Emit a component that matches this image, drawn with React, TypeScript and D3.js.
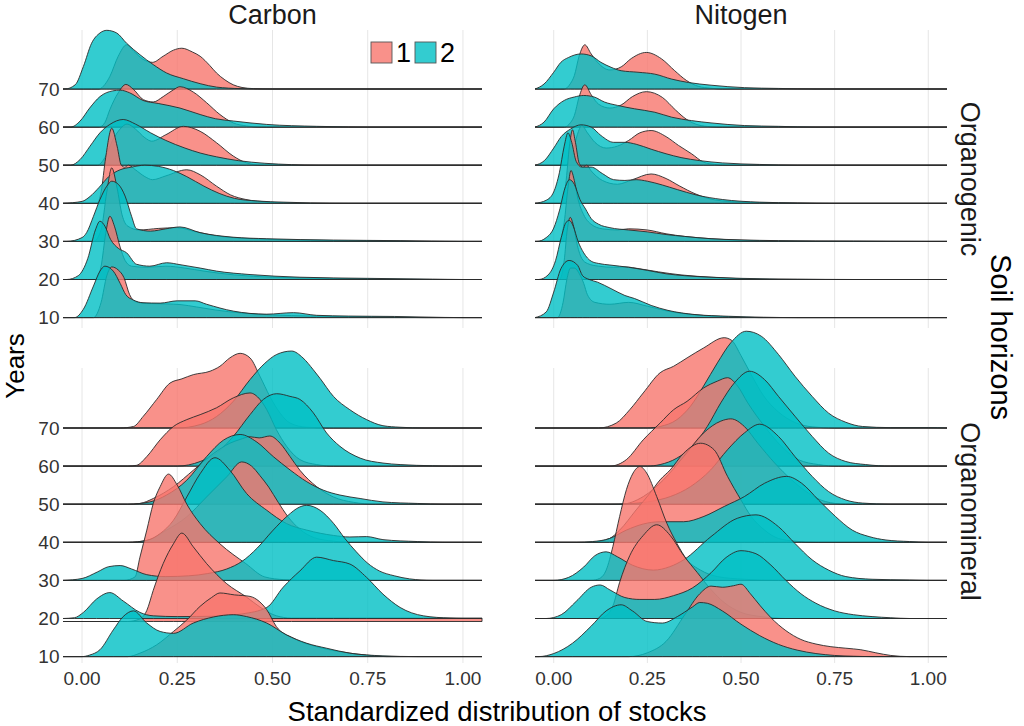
import React from "react";
import * as d3 from "d3";

type Pt = [number, number];

const years = [10, 20, 30, 40, 50, 60, 70];
const elements = ["Carbon", "Nitogen"];
const horizons = ["Organogenic", "Organomineral"];
const groups = ["1", "2"];
const xTicks = [0, 0, 0.25, 0.5, 0.75, 1].slice(1);
const xTickLabels = ["0.00", "0.25", "0.50", "0.75", "1.00"];

// Density ridges: [standardized stock, ridge height in row units]; outer arrays follow `years` (10..70)
const carbonOrganogenic1: Pt[][] = [
  [[0.03,0],[0.05,0.4],[0.065,1.1],[0.078,1.33],[0.095,1.25],[0.11,1.05],[0.125,0.6],[0.14,0.42],[0.17,0.37],[0.22,0.36],[0.26,0.34],[0.3,0.28],[0.35,0.2],[0.42,0.12],[0.5,0.07],[0.6,0.04],[0.75,0.02],[0.9,0]],
  [[0.035,0],[0.05,0.35],[0.062,1.2],[0.073,1.66],[0.085,1.4],[0.1,0.85],[0.113,0.5],[0.13,0.35],[0.17,0.32],[0.22,0.35],[0.27,0.3],[0.32,0.22],[0.4,0.12],[0.5,0.06],[0.65,0.03],[0.8,0.01],[0.9,0]],
  [[0.03,0],[0.05,0.3],[0.065,1.3],[0.078,1.93],[0.092,1.4],[0.105,0.7],[0.12,0.4],[0.15,0.3],[0.2,0.34],[0.25,0.36],[0.3,0.25],[0.35,0.15],[0.45,0.07],[0.6,0.03],[0.8,0.01],[0.95,0]],
  [[0.04,0],[0.05,0.3],[0.062,1.2],[0.078,1.97],[0.092,1.5],[0.103,1.0],[0.112,0.95],[0.122,1.0],[0.14,0.88],[0.165,0.7],[0.185,0.62],[0.22,0.72],[0.275,0.88],[0.31,0.75],[0.353,0.45],[0.39,0.22],[0.43,0.1],[0.48,0.04],[0.53,0.01],[0.6,0]],
  [[0.04,0],[0.06,0.2],[0.08,0.65],[0.1,0.95],[0.118,1.08],[0.14,0.95],[0.165,0.72],[0.183,0.63],[0.22,0.8],[0.266,1.02],[0.31,0.89],[0.353,0.59],[0.397,0.24],[0.432,0.06],[0.47,0]],
  [[0.045,0],[0.06,0.12],[0.073,0.46],[0.095,0.9],[0.115,1.12],[0.135,0.99],[0.161,0.72],[0.187,0.66],[0.213,0.8],[0.24,0.98],[0.257,1.06],[0.292,0.92],[0.327,0.64],[0.362,0.33],[0.397,0.11],[0.432,0.03],[0.47,0]],
  [[0.045,0],[0.06,0.12],[0.073,0.33],[0.095,0.86],[0.117,1.16],[0.135,1.0],[0.16,0.78],[0.185,0.7],[0.213,0.86],[0.24,1.02],[0.262,1.07],[0.29,0.97],[0.31,0.86],[0.335,0.62],[0.353,0.42],[0.375,0.24],[0.397,0.11],[0.42,0.04],[0.45,0.01],[0.5,0]],
];
const carbonOrganogenic2: Pt[][] = [
  [[-0.02,0],[0.0035,0.22],[0.03,0.83],[0.047,1.22],[0.06,1.35],[0.082,1.22],[0.1,0.9],[0.115,0.6],[0.135,0.46],[0.16,0.39],[0.205,0.38],[0.25,0.44],[0.297,0.44],[0.327,0.35],[0.397,0.17],[0.485,0.09],[0.555,0.13],[0.616,0.06],[0.7,0.04],[0.82,0.03],[0.95,0.005],[1.0,0]],
  [[-0.04,0],[-0.01,0.1],[0.015,0.55],[0.035,1.3],[0.047,1.53],[0.06,1.4],[0.075,1.05],[0.095,0.82],[0.117,0.7],[0.143,0.4],[0.178,0.35],[0.222,0.44],[0.257,0.39],[0.31,0.3],[0.353,0.22],[0.441,0.13],[0.572,0.06],[0.75,0.03],[0.92,0.01],[1.0,0]],
  [[-0.04,0],[0.0,0.1],[0.012,0.23],[0.03,0.66],[0.047,1.1],[0.065,1.45],[0.078,1.58],[0.095,1.5],[0.113,1.19],[0.13,0.66],[0.143,0.33],[0.18,0.27],[0.22,0.33],[0.257,0.38],[0.31,0.23],[0.397,0.11],[0.485,0.07],[0.66,0.035],[0.835,0.02],[1.0,0]],
  [[-0.05,0],[0.0,0.05],[0.021,0.18],[0.045,0.42],[0.07,0.7],[0.1,0.88],[0.13,0.95],[0.165,1.0],[0.2,0.97],[0.24,0.86],[0.275,0.7],[0.32,0.45],[0.36,0.26],[0.4,0.13],[0.46,0.06],[0.53,0.03],[0.6,0.01],[0.7,0]],
  [[-0.03,0],[-0.005,0.15],[0.021,0.5],[0.047,0.85],[0.073,1.07],[0.108,1.2],[0.14,1.08],[0.18,0.85],[0.22,0.65],[0.27,0.45],[0.31,0.32],[0.353,0.22],[0.41,0.12],[0.48,0.05],[0.55,0.015],[0.62,0]],
  [[-0.03,0],[-0.005,0.16],[0.02,0.5],[0.047,0.8],[0.08,0.95],[0.1,0.97],[0.125,0.9],[0.16,0.7],[0.2,0.62],[0.257,0.5],[0.31,0.33],[0.35,0.22],[0.397,0.16],[0.485,0.07],[0.616,0.02],[0.7,0.005],[0.75,0]],
  [[-0.045,0],[-0.018,0.11],[0.0035,0.59],[0.025,1.2],[0.047,1.47],[0.065,1.54],[0.091,1.47],[0.117,1.2],[0.152,0.9],[0.187,0.64],[0.222,0.42],[0.266,0.27],[0.31,0.14],[0.353,0.05],[0.415,0.01],[0.46,0]],
];
const nitogenOrganogenic1: Pt[][] = [
  [[0.01,0],[0.025,0.4],[0.035,1.0],[0.045,1.3],[0.055,1.3],[0.07,1.12],[0.08,0.9],[0.09,0.6],[0.11,0.4],[0.15,0.35],[0.2,0.4],[0.25,0.3],[0.3,0.18],[0.37,0.08],[0.45,0.03],[0.55,0]],
  [[0.015,0],[0.028,0.5],[0.036,1.3],[0.044,1.63],[0.053,1.4],[0.063,0.9],[0.075,0.55],[0.09,0.42],[0.12,0.35],[0.16,0.32],[0.19,0.33],[0.23,0.28],[0.28,0.2],[0.34,0.12],[0.42,0.06],[0.5,0.02],[0.6,0]],
  [[0.015,0],[0.028,0.5],[0.038,1.4],[0.046,1.86],[0.055,1.6],[0.065,1.1],[0.08,0.7],[0.1,0.45],[0.13,0.33],[0.17,0.3],[0.2,0.33],[0.25,0.3],[0.3,0.2],[0.35,0.13],[0.42,0.07],[0.5,0.03],[0.6,0.01],[0.7,0]],
  [[0.02,0],[0.032,0.5],[0.042,1.5],[0.05,1.93],[0.058,1.6],[0.068,1.05],[0.078,0.95],[0.088,1.0],[0.1,0.85],[0.13,0.6],[0.17,0.5],[0.21,0.62],[0.26,0.77],[0.3,0.65],[0.335,0.46],[0.38,0.24],[0.43,0.09],[0.5,0.03],[0.6,0.01],[0.7,0]],
  [[0.03,0],[0.05,0.3],[0.063,0.8],[0.075,1.04],[0.09,0.85],[0.11,0.6],[0.14,0.45],[0.17,0.5],[0.2,0.65],[0.23,0.85],[0.26,0.91],[0.3,0.75],[0.333,0.52],[0.368,0.3],[0.4,0.08],[0.43,0.02],[0.46,0]],
  [[0.028,0],[0.045,0.12],[0.055,0.3],[0.068,0.8],[0.083,1.11],[0.1,0.85],[0.12,0.6],[0.15,0.5],[0.18,0.58],[0.21,0.8],[0.247,0.93],[0.29,0.78],[0.325,0.45],[0.355,0.2],[0.385,0.06],[0.42,0.01],[0.45,0]],
  [[0.028,0],[0.045,0.15],[0.055,0.35],[0.068,0.87],[0.083,1.16],[0.1,0.92],[0.117,0.7],[0.15,0.5],[0.18,0.58],[0.207,0.8],[0.247,0.96],[0.288,0.79],[0.323,0.48],[0.355,0.22],[0.386,0.07],[0.42,0.02],[0.45,0]],
];
const nitogenOrganogenic2: Pt[][] = [
  [[-0.05,0],[-0.02,0.15],[0.0,0.67],[0.019,1.28],[0.041,1.5],[0.064,1.37],[0.077,1.1],[0.095,1.0],[0.117,0.93],[0.153,0.76],[0.19,0.58],[0.216,0.5],[0.26,0.32],[0.305,0.19],[0.377,0.08],[0.467,0.035],[0.56,0.01],[0.65,0]],
  [[-0.04,0],[-0.015,0.12],[0.005,0.5],[0.02,1.1],[0.033,1.5],[0.042,1.55],[0.052,1.4],[0.065,1.0],[0.08,0.7],[0.1,0.48],[0.12,0.42],[0.15,0.38],[0.2,0.32],[0.25,0.24],[0.3,0.15],[0.35,0.1],[0.42,0.06],[0.5,0.03],[0.65,0.01],[0.8,0]],
  [[-0.045,0],[-0.02,0.1],[0.0,0.35],[0.015,0.8],[0.03,1.4],[0.042,1.62],[0.055,1.5],[0.07,1.1],[0.085,0.85],[0.1,0.6],[0.12,0.45],[0.15,0.36],[0.2,0.3],[0.25,0.25],[0.3,0.18],[0.35,0.13],[0.42,0.07],[0.5,0.04],[0.6,0.02],[0.8,0.01],[1.0,0]],
  [[-0.05,0],[-0.02,0.08],[0.0,0.3],[0.015,0.8],[0.028,1.5],[0.038,1.85],[0.048,1.6],[0.06,1.1],[0.075,0.95],[0.1,0.95],[0.13,0.78],[0.16,0.62],[0.19,0.6],[0.22,0.62],[0.25,0.58],[0.29,0.48],[0.33,0.36],[0.38,0.22],[0.45,0.1],[0.55,0.03],[0.65,0.01],[0.75,0]],
  [[-0.05,0],[-0.025,0.12],[0.0,0.45],[0.02,0.75],[0.045,0.95],[0.073,1.06],[0.1,1.0],[0.126,0.78],[0.16,0.6],[0.19,0.6],[0.22,0.55],[0.26,0.42],[0.3,0.3],[0.34,0.2],[0.39,0.12],[0.45,0.06],[0.55,0.02],[0.65,0]],
  [[-0.05,0],[-0.026,0.13],[0.0,0.48],[0.028,0.7],[0.055,0.79],[0.08,0.83],[0.108,0.79],[0.135,0.66],[0.17,0.57],[0.216,0.48],[0.27,0.39],[0.315,0.26],[0.368,0.17],[0.42,0.11],[0.51,0.04],[0.6,0.02],[0.7,0]],
  [[-0.05,0],[-0.026,0.13],[0.0,0.44],[0.019,0.7],[0.04,0.83],[0.073,0.92],[0.1,0.87],[0.126,0.7],[0.153,0.57],[0.18,0.48],[0.225,0.44],[0.27,0.39],[0.315,0.26],[0.36,0.17],[0.42,0.1],[0.51,0.035],[0.6,0.015],[0.7,0]],
];
const carbonOrganomineral1: Pt[][] = [
  [[0.12,0],[0.152,0.09],[0.196,0.31],[0.24,0.66],[0.275,0.96],[0.31,1.32],[0.34,1.55],[0.362,1.67],[0.4,1.62],[0.441,1.58],[0.465,1.45],[0.485,1.23],[0.51,0.79],[0.555,0.48],[0.616,0.26],[0.677,0.13],[0.747,0.04],[0.8,0]],
  [[0.12,0],[0.152,0.07],[0.17,0.29],[0.187,0.82],[0.213,1.52],[0.24,2.04],[0.262,2.32],[0.292,1.96],[0.327,1.52],[0.38,0.99],[0.432,0.64],[0.467,0.38],[0.51,0.15],[0.55,0.09],[1.05,0.09]],
  [[0.11,0],[0.139,0.09],[0.152,0.61],[0.17,1.32],[0.187,2.02],[0.205,2.46],[0.227,2.79],[0.25,2.5],[0.275,2.0],[0.31,1.49],[0.362,0.96],[0.43,0.44],[0.48,0.09],[0.53,0.02],[0.6,0]],
  [[0.12,0],[0.17,0.05],[0.222,0.32],[0.275,0.67],[0.327,1.19],[0.38,1.72],[0.419,2.11],[0.445,2.0],[0.467,1.75],[0.49,1.45],[0.515,1.05],[0.54,0.68],[0.572,0.34],[0.61,0.12],[0.66,0.03],[0.7,0]],
  [[0.12,0],[0.152,0.02],[0.187,0.15],[0.24,0.46],[0.292,0.89],[0.345,1.33],[0.388,1.6],[0.415,1.7],[0.441,1.77],[0.465,1.74],[0.493,1.79],[0.52,1.6],[0.546,1.25],[0.572,0.89],[0.616,0.46],[0.66,0.19],[0.712,0.05],[0.77,0]],
  [[0.12,0],[0.143,0.02],[0.17,0.25],[0.205,0.69],[0.24,1.04],[0.275,1.22],[0.31,1.35],[0.353,1.53],[0.397,1.79],[0.441,1.92],[0.467,1.75],[0.485,1.48],[0.51,0.96],[0.537,0.52],[0.572,0.17],[0.616,0.04],[0.66,0]],
  [[0.1,0],[0.135,0.04],[0.161,0.31],[0.196,0.75],[0.231,1.18],[0.262,1.29],[0.292,1.4],[0.336,1.49],[0.362,1.62],[0.388,1.84],[0.415,1.96],[0.441,1.84],[0.467,1.36],[0.493,0.83],[0.52,0.39],[0.546,0.13],[0.59,0.02],[0.65,0]],
];
const carbonOrganomineral2: Pt[][] = [
  [[0.0,0],[0.02,0.04],[0.047,0.18],[0.082,0.7],[0.108,1.05],[0.135,1.2],[0.17,0.88],[0.205,0.66],[0.24,0.61],[0.292,0.88],[0.345,1.04],[0.397,1.1],[0.432,1.05],[0.485,0.88],[0.537,0.57],[0.59,0.35],[0.642,0.22],[0.703,0.09],[0.79,0.02],[0.88,0]],
  [[-0.05,0],[-0.02,0.02],[0.0035,0.16],[0.038,0.51],[0.073,0.68],[0.108,0.46],[0.152,0.16],[0.187,0.07],[0.25,0.05],[0.35,0.06],[0.42,0.12],[0.485,0.29],[0.528,0.82],[0.572,1.25],[0.616,1.61],[0.66,1.52],[0.703,1.43],[0.747,1.08],[0.79,0.64],[0.835,0.29],[0.896,0.07],[0.966,0.01],[1.0,0]],
  [[-0.05,0],[0.0,0.05],[0.04,0.22],[0.07,0.36],[0.1,0.39],[0.13,0.3],[0.17,0.15],[0.22,0.1],[0.28,0.12],[0.33,0.18],[0.38,0.3],[0.42,0.5],[0.46,0.85],[0.5,1.3],[0.54,1.7],[0.57,1.92],[0.59,1.97],[0.625,1.84],[0.66,1.5],[0.69,1.1],[0.72,0.75],[0.75,0.45],[0.78,0.25],[0.82,0.12],[0.86,0.04],[0.92,0]],
  [[0.12,0],[0.17,0.05],[0.205,0.23],[0.24,0.58],[0.275,1.19],[0.31,1.8],[0.349,2.22],[0.388,1.89],[0.432,1.28],[0.485,0.84],[0.537,0.49],[0.59,0.32],[0.66,0.18],[0.703,0.14],[0.747,0.15],[0.79,0.07],[0.88,0.02],[0.95,0]],
  [[0.12,0],[0.178,0.06],[0.222,0.24],[0.275,0.63],[0.327,1.25],[0.371,1.68],[0.415,1.83],[0.459,1.63],[0.502,1.25],[0.546,0.9],[0.59,0.59],[0.633,0.37],[0.677,0.24],[0.73,0.15],[0.79,0.06],[0.88,0.02],[0.95,0]],
  [[0.25,0],[0.31,0.12],[0.353,0.34],[0.397,0.78],[0.441,1.35],[0.476,1.75],[0.511,1.9],[0.546,1.83],[0.572,1.75],[0.607,1.4],[0.642,0.87],[0.677,0.52],[0.73,0.21],[0.79,0.08],[0.835,0.04],[0.92,0.01],[0.97,0]],
  [[0.25,0],[0.31,0.09],[0.353,0.3],[0.397,0.7],[0.441,1.27],[0.48,1.7],[0.511,1.93],[0.55,2.02],[0.58,1.84],[0.607,1.53],[0.625,1.3],[0.66,0.83],[0.703,0.48],[0.747,0.22],[0.79,0.06],[0.835,0.02],[0.9,0]],
];
const nitogenOrganomineral1: Pt[][] = [
  [[0.2,0],[0.25,0.1],[0.3,0.4],[0.35,1.1],[0.39,1.65],[0.42,1.85],[0.45,1.82],[0.48,1.86],[0.5,1.9],[0.525,1.65],[0.55,1.35],[0.58,1.02],[0.62,0.68],[0.66,0.45],[0.7,0.33],[0.74,0.26],[0.78,0.22],[0.82,0.18],[0.86,0.1],[0.9,0.03],[0.95,0]],
  [[0.12,0],[0.14,0.07],[0.158,0.33],[0.176,0.95],[0.203,1.65],[0.239,2.18],[0.275,2.46],[0.311,2.18],[0.347,1.65],[0.383,1.21],[0.419,0.77],[0.455,0.42],[0.5,0.16],[0.554,0.05],[0.62,0]],
  [[0.1,0],[0.122,0.05],[0.14,0.27],[0.158,0.89],[0.176,1.68],[0.194,2.38],[0.212,2.82],[0.23,2.99],[0.248,2.82],[0.275,2.2],[0.302,1.5],[0.329,0.97],[0.356,0.54],[0.392,0.27],[0.437,0.1],[0.509,0.03],[0.6,0]],
  [[0.1,0],[0.149,0.1],[0.176,0.32],[0.22,0.85],[0.257,1.29],[0.284,1.64],[0.311,1.9],[0.347,2.34],[0.392,2.6],[0.428,2.43],[0.464,1.73],[0.5,1.11],[0.527,0.68],[0.563,0.32],[0.6,0.1],[0.644,0.03],[0.7,0]],
  [[0.18,0],[0.239,0.2],[0.293,0.64],[0.347,1.25],[0.4,1.87],[0.446,2.18],[0.473,2.24],[0.509,2.04],[0.545,1.6],[0.59,1.08],[0.635,0.64],[0.68,0.29],[0.725,0.07],[0.78,0]],
  [[0.15,0],[0.194,0.17],[0.239,0.69],[0.284,1.13],[0.32,1.48],[0.356,1.7],[0.4,2.05],[0.437,2.23],[0.464,2.32],[0.491,2.1],[0.518,1.66],[0.563,1.04],[0.608,0.52],[0.653,0.17],[0.707,0.04],[0.76,0]],
  [[0.12,0],[0.167,0.13],[0.203,0.48],[0.239,0.92],[0.284,1.45],[0.32,1.62],[0.356,1.84],[0.4,2.1],[0.455,2.37],[0.475,2.3],[0.5,1.9],[0.53,1.35],[0.56,0.85],[0.6,0.42],[0.645,0.14],[0.69,0.03],[0.75,0]],
];
const nitogenOrganomineral2: Pt[][] = [
  [[-0.04,0],[0.0,0.08],[0.05,0.35],[0.1,0.8],[0.14,1.2],[0.18,1.36],[0.21,1.2],[0.25,0.92],[0.29,0.88],[0.33,1.05],[0.37,1.3],[0.39,1.42],[0.41,1.4],[0.45,1.2],[0.5,0.85],[0.55,0.55],[0.6,0.32],[0.65,0.17],[0.7,0.08],[0.75,0.03],[0.8,0.01],[0.85,0]],
  [[-0.02,0],[0.02,0.1],[0.06,0.45],[0.1,0.82],[0.124,0.88],[0.15,0.75],[0.19,0.55],[0.23,0.5],[0.27,0.5],[0.32,0.6],[0.37,0.8],[0.42,1.2],[0.46,1.6],[0.5,1.78],[0.54,1.7],[0.58,1.4],[0.62,1.0],[0.66,0.65],[0.7,0.4],[0.75,0.2],[0.8,0.1],[0.85,0.05],[0.9,0.02],[0.95,0]],
  [[0.0,0],[0.04,0.08],[0.08,0.35],[0.11,0.65],[0.14,0.75],[0.17,0.62],[0.21,0.4],[0.266,0.27],[0.31,0.36],[0.347,0.54],[0.42,1.15],[0.49,1.63],[0.54,1.72],[0.6,1.41],[0.644,0.97],[0.69,0.54],[0.734,0.27],[0.78,0.1],[0.85,0.03],[0.95,0.01],[1.0,0]],
  [[0.06,0],[0.104,0.02],[0.149,0.1],[0.194,0.32],[0.239,0.48],[0.284,0.54],[0.347,0.54],[0.401,0.68],[0.455,0.94],[0.509,1.2],[0.563,1.55],[0.622,1.73],[0.662,1.55],[0.707,1.11],[0.752,0.68],[0.797,0.32],[0.842,0.15],[0.887,0.06],[0.95,0.02],[1.0,0]],
  [[0.15,0],[0.194,0.01],[0.257,0.07],[0.311,0.2],[0.365,0.46],[0.419,0.9],[0.464,1.43],[0.509,1.87],[0.55,2.1],[0.6,1.78],[0.644,1.25],[0.69,0.73],[0.734,0.33],[0.78,0.11],[0.824,0.03],[0.9,0]],
  [[0.25,0],[0.284,0.04],[0.329,0.21],[0.374,0.56],[0.41,1.04],[0.446,1.66],[0.482,2.18],[0.523,2.49],[0.563,2.27],[0.6,1.83],[0.644,1.31],[0.69,0.78],[0.734,0.34],[0.78,0.12],[0.833,0.04],[0.9,0]],
  [[0.25,0],[0.284,0.04],[0.329,0.22],[0.365,0.57],[0.4,1.1],[0.437,1.71],[0.473,2.24],[0.514,2.54],[0.554,2.41],[0.6,1.93],[0.644,1.36],[0.69,0.83],[0.734,0.39],[0.78,0.15],[0.824,0.04],[0.9,0.01],[1.0,0.01],[1.05,0]],
];

const ridges: Record<string, Pt[][]> = {
  "Carbon|Organogenic|1": carbonOrganogenic1,
  "Carbon|Organogenic|2": carbonOrganogenic2,
  "Nitogen|Organogenic|1": nitogenOrganogenic1,
  "Nitogen|Organogenic|2": nitogenOrganogenic2,
  "Carbon|Organomineral|1": carbonOrganomineral1,
  "Carbon|Organomineral|2": carbonOrganomineral2,
  "Nitogen|Organomineral|1": nitogenOrganomineral1,
  "Nitogen|Organomineral|2": nitogenOrganomineral2,
};

const groupColors: Record<string, string> = { "1": "#F8766D", "2": "#00BFC4" };

// layout
const PANEL_X: [number, number][] = [[63, 482], [535, 947]];
const TOP_BASE = [89, 428];
const ROW = 38.1;
const GRID_Y: [number, number][] = [[30, 328], [368, 663]];
const FONT = "'Liberation Sans', Arial, Helvetica, sans-serif";
// one ridge in the reference sits slightly below its row line
const ridgeShift: Record<string, number> = { "Carbon|Organomineral|1|20": 3 };

export default function App() {
  const yBase = (hi: number, year: number) =>
    TOP_BASE[hi] + (years.length - 1 - years.indexOf(year)) * ROW;

  const panels: React.ReactNode[] = [];
  horizons.forEach((hz, hi) => {
    elements.forEach((el, ei) => {
      const xs = d3.scaleLinear().domain([-0.05, 1.05]).range(PANEL_X[ei]);
      const grid = xTicks.map((t, i) => (
        <line key={`g${i}`} x1={xs(t)} x2={xs(t)} y1={GRID_Y[hi][0]} y2={GRID_Y[hi][1]}
          stroke="#E6E6E6" strokeWidth={1} />
      ));
      const paths: React.ReactNode[] = [];
      [...years].reverse().forEach((yr) => {
        const yi = years.indexOf(yr);
        groups.forEach((g) => {
          const pts = ridges[`${el}|${hz}|${g}`][yi];
          const full: Pt[] = [];
          if (pts[0][0] > -0.05) full.push([-0.05, 0]);
          full.push(...pts);
          if (pts[pts.length - 1][0] < 1.05) full.push([1.05, 0]);
          const base = yBase(hi, yr) + (ridgeShift[`${el}|${hz}|${g}|${yr}`] || 0);
          const area = d3.area<Pt>()
            .x((d) => xs(d[0]))
            .y0(base)
            .y1((d) => base - d[1] * ROW)
            .curve(d3.curveMonotoneX);
          paths.push(
            <path key={`${yr}-${g}`} d={area(full) || ""} fill={groupColors[g]} fillOpacity={0.8}
              stroke="#2a2a2a" strokeWidth={0.9} strokeLinejoin="round" />
          );
        });
      });
      panels.push(<g key={`${hz}-${el}`}>{grid}{paths}</g>);
    });
  });

  const yLabels: React.ReactNode[] = [];
  horizons.forEach((hz, hi) => {
    years.forEach((yr) => {
      yLabels.push(
        <text key={`${hz}${yr}`} x={59.5} y={yBase(hi, yr)} textAnchor="end" dominantBaseline="central"
          fontSize={19} fill="#333" fontFamily={FONT}>{yr}</text>
      );
    });
  });

  const xLabels: React.ReactNode[] = [];
  elements.forEach((el, ei) => {
    const xs = d3.scaleLinear().domain([-0.05, 1.05]).range(PANEL_X[ei]);
    xTicks.forEach((t, i) => {
      xLabels.push(
        <text key={`${el}${i}`} x={xs(t)} y={685} textAnchor="middle" fontSize={19} fill="#333"
          fontFamily={FONT}>{xTickLabels[i]}</text>
      );
    });
  });

  return (
    <svg width={1024} height={726} style={{ position: "absolute", left: 0, top: 0, background: "#fff" }}>
      <rect x={0} y={0} width={1024} height={726} fill="#fff" />
      {panels}
      {yLabels}
      {xLabels}
      {elements.map((el, ei) => (
        <text key={el} x={(PANEL_X[ei][0] + PANEL_X[ei][1]) / 2} y={24} textAnchor="middle" fontSize={27}
          fontFamily={FONT} fill="#1a1a1a">{el}</text>
      ))}
      {horizons.map((hz, hi) => (
        <text key={hz} transform={`translate(970,${(GRID_Y[hi][0] + GRID_Y[hi][1]) / 2 + (hi === 0 ? 0 : -4)}) rotate(90)`}
          textAnchor="middle" dominantBaseline="central" fontSize={27} fontFamily={FONT} fill="#1a1a1a">{hz}</text>
      ))}
      <text transform="translate(1001,337) rotate(90)" textAnchor="middle" dominantBaseline="central"
        fontSize={29} fontFamily={FONT} fill="#000">Soil horizons</text>
      <text transform="translate(15,366) rotate(-90)" textAnchor="middle" dominantBaseline="central"
        fontSize={26} fontFamily={FONT} fill="#000">Years</text>
      <text x={497} y={721} textAnchor="middle" fontSize={27.5} fontFamily={FONT} fill="#000">
        Standardized distribution of stocks
      </text>
      {groups.map((g, i) => (
        <g key={g} transform={`translate(${371 + i * 44},42)`}>
          <rect x={0} y={0} width={21} height={21} fill={groupColors[g]} fillOpacity={0.8} stroke="#555" strokeWidth={0.9} />
          <text x={25} y={20} fontSize={27} fontFamily={FONT} fill="#000">{g}</text>
        </g>
      ))}
    </svg>
  );
}
